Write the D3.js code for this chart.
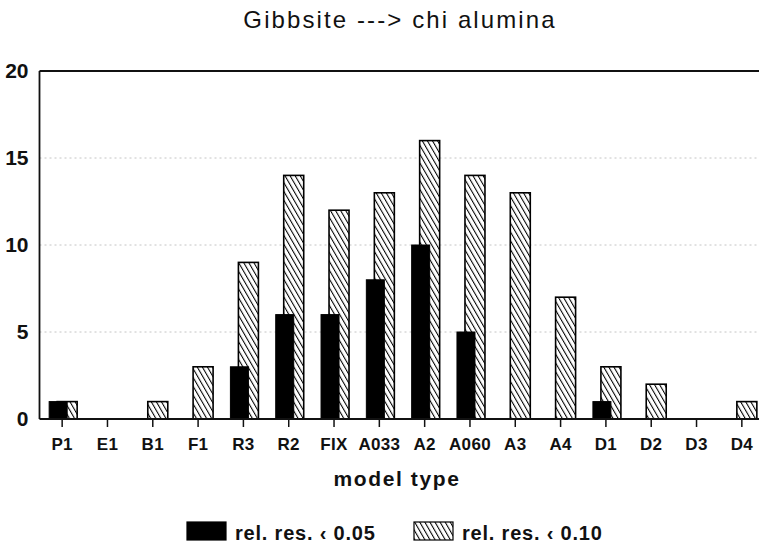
<!DOCTYPE html>
<html>
<head>
<meta charset="utf-8">
<script src="https://cdn.jsdelivr.net/npm/d3@7"></script>
<style>
  html, body { margin: 0; padding: 0; background: #fff; }
  svg { display: block; font-family: "Liberation Sans", Arial, Helvetica, sans-serif; }
</style>
</head>
<body>
<svg id="chart" width="759" height="546"></svg>
<script>
const categories = ["P1","E1","B1","F1","R3","R2","FIX","A033","A2","A060","A3","A4","D1","D2","D3","D4"];
const relRes005 = [1,0,0,0,3,6,6,8,10,5,0,0,1,0,0,0];
const relRes010 = [1,0,1,3,9,14,12,13,16,14,13,7,3,2,0,1];
const yTicks = [0,5,10,15,20];
const gridValues = [5,10,15];
const seriesNames = ["rel. res. \u2039 0.05", "rel. res. \u2039 0.10"];
const chartTitle = "Gibbsite ---> chi alumina";
const xTitle = "model type";

(function () {
const svg = d3.select("#chart");
const W = 759, H = 546;
const mLeft = 39.5, mRight = 764.5, mTop = 71, mBottom = 419;

const x = d3.scaleBand().domain(categories).range([mLeft, mRight]).padding(0);
const y = d3.scaleLinear().domain([0, 20]).range([mBottom, mTop]);
const sub = d3.scaleOrdinal().domain(["s005","s010"]).range([-13, -5]);
const subW = d3.scaleOrdinal().domain(["s005","s010"]).range([18, 20]);
const cx = c => x(c) + x.bandwidth() / 2;

// hatch pattern
const defs = svg.append("defs");
const pat = defs.append("pattern")
  .attr("id", "hatch").attr("patternUnits", "userSpaceOnUse")
  .attr("width", 4.4).attr("height", 4.4)
  .attr("patternTransform", "rotate(-30)");
pat.append("rect").attr("width", 4.4).attr("height", 4.4).attr("fill", "#fff");
pat.append("line").attr("x1", 0).attr("y1", 0).attr("x2", 0).attr("y2", 4.4)
  .attr("stroke", "#000").attr("stroke-width", 2.1);

// title
svg.append("text").attr("x", 400).attr("y", 28).attr("text-anchor", "middle")
  .attr("font-size", 24).attr("letter-spacing", 2.1).attr("fill", "#111").text(chartTitle);

// gridlines
svg.append("g").selectAll("line").data(gridValues).join("line")
  .attr("x1", mLeft).attr("x2", W).attr("y1", d => y(d)).attr("y2", d => y(d))
  .attr("stroke", "#c4c4c4").attr("stroke-width", 1).attr("stroke-dasharray", "2,3");

// hatched bars (drawn first)
svg.append("g").selectAll("rect").data(categories.map((c,i)=>({c, v: relRes010[i]})).filter(d=>d.v>0))
  .join("rect")
  .attr("x", d => cx(d.c) + sub("s010"))
  .attr("width", subW("s010"))
  .attr("y", d => y(d.v))
  .attr("height", d => y(0) - y(d.v))
  .attr("fill", "url(#hatch)").attr("stroke", "#000").attr("stroke-width", 1.6);

// black bars
svg.append("g").selectAll("rect").data(categories.map((c,i)=>({c, v: relRes005[i]})).filter(d=>d.v>0))
  .join("rect")
  .attr("x", d => cx(d.c) + sub("s005"))
  .attr("width", subW("s005"))
  .attr("y", d => y(d.v))
  .attr("height", d => y(0) - y(d.v))
  .attr("fill", "#000").attr("stroke", "#000").attr("stroke-width", 1);

// frame lines
svg.append("line").attr("x1", mLeft).attr("x2", W).attr("y1", mTop).attr("y2", mTop)
  .attr("stroke", "#111").attr("stroke-width", 1.8);
svg.append("line").attr("x1", mLeft).attr("x2", W).attr("y1", mBottom).attr("y2", mBottom)
  .attr("stroke", "#111").attr("stroke-width", 1.8);
svg.append("line").attr("x1", mLeft).attr("x2", mLeft).attr("y1", mTop).attr("y2", mBottom)
  .attr("stroke", "#111").attr("stroke-width", 1.8);

// x axis ticks + labels
const xAxis = d3.axisBottom(x).tickSize(8).tickSizeOuter(0).tickPadding(11);
const gx = svg.append("g").attr("transform", `translate(0,${mBottom})`).call(xAxis);
gx.select(".domain").remove();
gx.selectAll(".tick line").attr("stroke", "#111").attr("stroke-width", 1.5);
gx.selectAll(".tick text").attr("font-size", 17).attr("font-weight", "bold")
  .attr("font-family", "'Liberation Sans', Arial, sans-serif").attr("fill", "#111")
  .attr("letter-spacing", 0.3);

// y axis labels
const yAxis = d3.axisLeft(y).tickValues(yTicks).tickSize(0).tickPadding(11);
const gy = svg.append("g").attr("transform", `translate(${mLeft},0)`).call(yAxis);
gy.select(".domain").remove();
gy.selectAll(".tick text").attr("font-size", 21).attr("font-weight", "bold")
  .attr("font-family", "'Liberation Sans', Arial, sans-serif").attr("fill", "#111");

// x title
svg.append("text").attr("x", 397).attr("y", 486).attr("text-anchor", "middle")
  .attr("font-size", 21).attr("letter-spacing", 1.6).attr("font-weight", "bold").attr("fill", "#111").text(xTitle);

// legend
const legendItems = [
  {name: seriesNames[0], fill: "#000", x: 187},
  {name: seriesNames[1], fill: "url(#hatch)", x: 414}
];
const lg = svg.append("g").selectAll("g").data(legendItems).join("g")
  .attr("transform", d => `translate(${d.x},522)`);
lg.append("rect").attr("width", 39).attr("height", 18)
  .attr("fill", d => d.fill).attr("stroke", "#000").attr("stroke-width", 1.2);
lg.append("text").attr("x", 48).attr("y", 18).attr("font-size", 20).attr("font-weight", "bold")
  .attr("letter-spacing", 0.8).attr("fill", "#111").text(d => d.name);
})();
</script>
</body>
</html>
